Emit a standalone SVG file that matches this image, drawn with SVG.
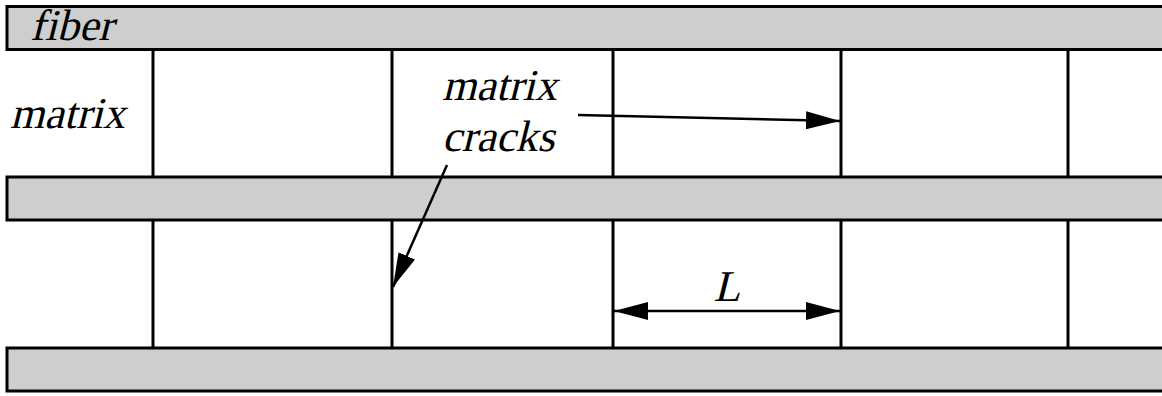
<svg xmlns="http://www.w3.org/2000/svg" width="1162" height="396" viewBox="0 0 1162 396">
<style>
.fiber{fill:#cecece;stroke:#000;stroke-width:3}
.crack{stroke:#000;stroke-width:3;fill:none}
.arr{stroke:#000;stroke-width:2.5;fill:none}
.t{font-family:'Liberation Serif','Times New Roman',serif;font-size:44px;fill:#000}
</style>
<defs>
<marker id="ah" viewBox="0 0 34 18" refX="34" refY="9" markerWidth="34" markerHeight="18" markerUnits="userSpaceOnUse" orient="auto-start-reverse">
<path d="M0,0 L34,9 L0,18 Z" fill="#000"/>
</marker>
</defs>
<rect width="1162" height="396" fill="#fff"/>
<g id="cracks">
<line class="crack" x1="153" y1="49" x2="153" y2="177"/>
<line class="crack" x1="392" y1="49" x2="392" y2="177"/>
<line class="crack" x1="613" y1="49" x2="613" y2="177"/>
<line class="crack" x1="841" y1="49" x2="841" y2="177"/>
<line class="crack" x1="1068" y1="49" x2="1068" y2="177"/>
<line class="crack" x1="153" y1="220" x2="153" y2="348"/>
<line class="crack" x1="392" y1="220" x2="392" y2="348"/>
<line class="crack" x1="613" y1="220" x2="613" y2="348"/>
<line class="crack" x1="841" y1="220" x2="841" y2="348"/>
<line class="crack" x1="1068" y1="220" x2="1068" y2="348"/>
</g>
<g id="fiber-top"><rect class="fiber" x="7" y="6.5" width="1170" height="43"/></g>
<g id="fiber-mid"><rect class="fiber" x="7" y="177" width="1170" height="43"/></g>
<g id="fiber-bot"><rect class="fiber" x="7" y="348" width="1170" height="43"/></g>
<g id="connectors">
<line class="arr" x1="578" y1="115" x2="840" y2="121" marker-end="url(#ah)"/>
<line class="arr" x1="447" y1="165" x2="393" y2="287" marker-end="url(#ah)"/>
<line class="arr" x1="614" y1="311" x2="840" y2="311" marker-start="url(#ah)" marker-end="url(#ah)"/>
</g>
<g id="labels">
<text class="t" transform="translate(30,40) skewX(-14)">fiber</text>
<text class="t" transform="translate(10,128) skewX(-14)">matrix</text>
<text class="t" transform="translate(442,100) skewX(-14)">matrix</text>
<text class="t" transform="translate(442,151) skewX(-14)">cracks</text>
<text class="t" transform="translate(727,301) skewX(-14)" text-anchor="middle">L</text>
</g>
</svg>
